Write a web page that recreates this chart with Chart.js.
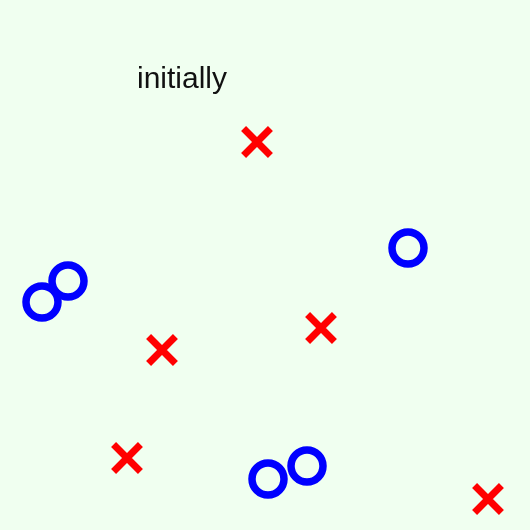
<!DOCTYPE html>
<html lang="en">

<head>
  <meta charset="UTF-8">
  <title>initially</title>
  <script src="https://cdn.jsdelivr.net/npm/chart.js"></script>
  <style>
    html, body { margin: 0; padding: 0; background: #f0fff0; }
    .wrap { width: 530px; height: 530px; }
  </style>
</head>

<body>
  <div class="wrap"><canvas id="chart"></canvas></div>

  <script>
    // positions on a 0..530 plane, y counted downward
    const crossX = [257, 321, 162, 127, 488]
    const crossY = [142, 328, 350, 458, 499]
    const ringX = [408, 68, 42, 307, 268]
    const ringY = [248, 281, 302, 466, 479]
    const caption = 'initially'

    const toPoints = (xs, ys) => xs.map((x, i) => ({ x: x, y: ys[i] }))

    // caption drawn onto the plot, placed in data units
    const captionPlugin = {
      id: 'caption',
      afterDatasetsDraw (chart) {
        const { ctx, scales } = chart
        ctx.save()
        ctx.fillStyle = '#111'
        ctx.font = '30px "Liberation Sans", Arial, sans-serif'
        ctx.textBaseline = 'alphabetic'
        ctx.fillText(caption, scales.x.getPixelForValue(137), scales.y.getPixelForValue(88))
        ctx.restore()
      }
    }

    new Chart(document.getElementById('chart'), {
      type: 'scatter',
      data: {
        datasets: [
          {
            label: 'x',
            data: toPoints(crossX, crossY),
            pointStyle: 'crossRot',
            pointRadius: 19,
            pointHoverRadius: 19,
            borderColor: '#ff0000',
            borderWidth: 7,
            clip: false
          },
          {
            label: 'o',
            data: toPoints(ringX, ringY),
            pointStyle: 'circle',
            pointRadius: 16,
            pointHoverRadius: 16,
            borderColor: '#0000ff',
            backgroundColor: 'rgba(0,0,0,0)',
            borderWidth: 7.5,
            clip: false
          }
        ]
      },
      options: {
        responsive: true,
        maintainAspectRatio: false,
        animation: false,
        layout: { padding: 0, autoPadding: false },
        scales: {
          x: { type: 'linear', min: 0, max: 530, display: false },
          y: { type: 'linear', min: 0, max: 530, reverse: true, display: false }
        },
        plugins: { legend: { display: false }, tooltip: { enabled: false } }
      },
      plugins: [captionPlugin]
    })
  </script>
</body>

</html>
